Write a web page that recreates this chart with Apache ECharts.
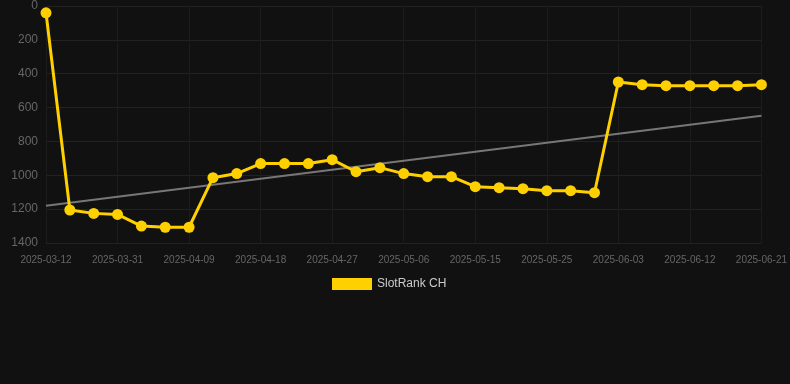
<!DOCTYPE html>
<html><head><meta charset="utf-8">
<script src="https://cdn.jsdelivr.net/npm/echarts@6/dist/echarts.min.js"></script>
<style>html,body{margin:0;padding:0;background:#111111;}#c{width:790px;height:384px;}</style>
</head><body><div id="c"></div>
<script>
var categories = ['2025-03-12','2025-03-25','2025-03-28','2025-03-31','2025-04-03','2025-04-06','2025-04-09','2025-04-12','2025-04-15','2025-04-18','2025-04-21','2025-04-24','2025-04-27','2025-04-30','2025-05-03','2025-05-06','2025-05-09','2025-05-12','2025-05-15','2025-05-18','2025-05-21','2025-05-25','2025-05-28','2025-05-31','2025-06-03','2025-06-06','2025-06-09','2025-06-12','2025-06-15','2025-06-18','2025-06-21'];
var rankValues = [40,1205,1225,1231,1300,1307,1307,1014,990,931,931,931,908,979,955,990,1008,1008,1067,1073,1079,1091,1091,1103,449,465,471,471,471,471,465];
var trendEnds = [1180, 648];
var yTicks = [0,200,400,600,800,1000,1200,1400];

var trend = categories.map(function(c,i){ return i===0 ? trendEnds[0] : (i===categories.length-1 ? trendEnds[1] : null); });

var chart = echarts.init(document.getElementById('c'));
chart.setOption({
  backgroundColor:'#111111',
  animation:false,
  grid:{left:46,right:28,top:6,bottom:141,containLabel:false},
  legend:{top:273,left:327,itemWidth:40,itemHeight:12,itemGap:10,icon:'rect',
    textStyle:{color:'#cccccc',fontSize:12,fontFamily:'Liberation Sans, Arial, sans-serif'},
    data:['SlotRank CH']},
  xAxis:{type:'category',data:categories,boundaryGap:false,
    axisLine:{show:false},axisTick:{show:false},
    axisLabel:{interval:2,color:'#666666',fontSize:10,margin:12,fontFamily:'Liberation Sans, Arial, sans-serif'},
    splitLine:{show:true,interval:2,lineStyle:{color:'#1c1c1c',width:1}}},
  yAxis:{type:'value',inverse:true,min:yTicks[0],max:yTicks[yTicks.length-1],interval:200,
    axisLine:{show:false},axisTick:{show:false},
    axisLabel:{color:'#666666',fontSize:12,margin:8,fontFamily:'Liberation Sans, Arial, sans-serif',
      formatter:function(v){return String(v);}},
    splitLine:{lineStyle:{color:'#222222',width:1}}},
  series:[
    {name:'Trend',type:'line',data:trend,connectNulls:true,symbol:'none',silent:true,
      lineStyle:{color:'#777777',width:2},z:1},
    {name:'SlotRank CH',type:'line',data:rankValues,symbol:'circle',symbolSize:11,
      itemStyle:{color:'#FFD000'},lineStyle:{color:'#FFD000',width:3},z:2}
  ]
});
</script></body></html>
